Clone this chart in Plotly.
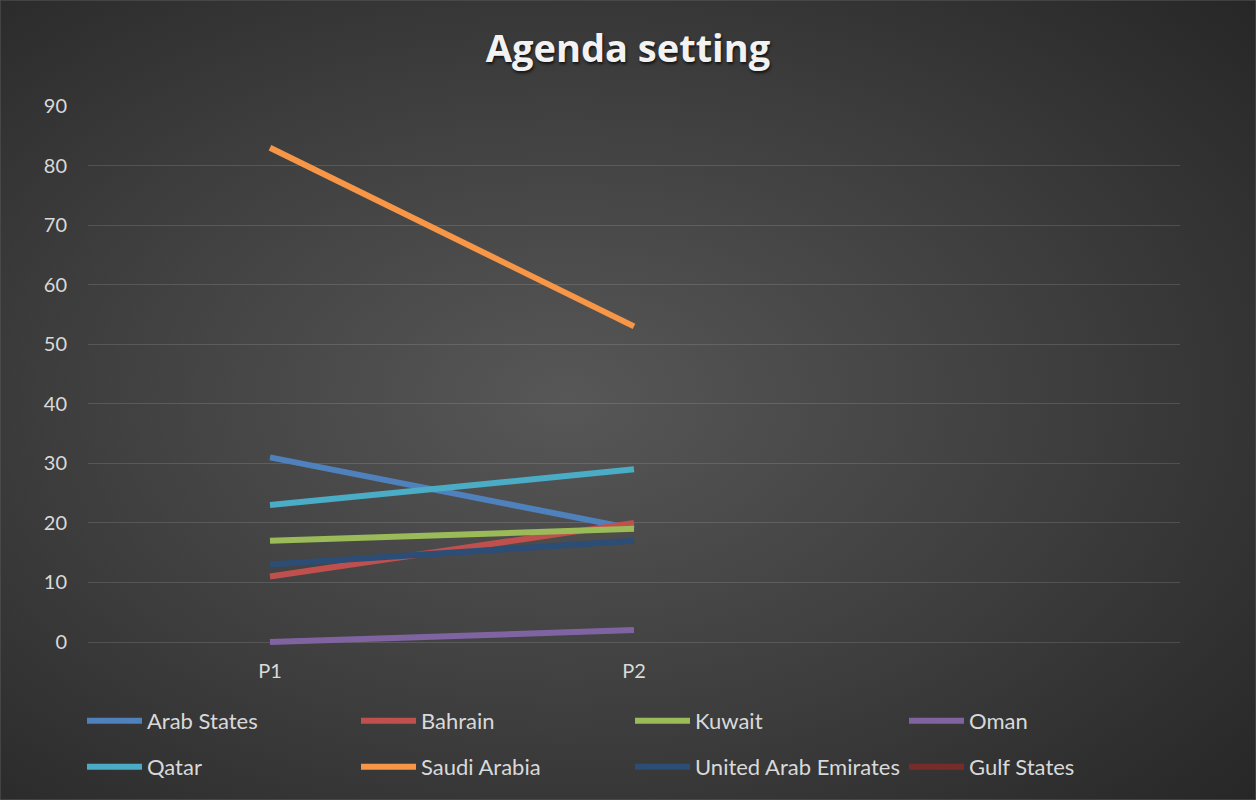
import base64
import plotly.graph_objects as go

# ---- data ----
periods = ["P1", "P2"]
series_names = ["Arab States", "Bahrain", "Kuwait", "Oman", "Qatar",
                "Saudi Arabia", "United Arab Emirates", "Gulf States"]
arab_states = [31, 19]
bahrain = [11, 20]
kuwait = [17, 19]
oman = [0, 2]
qatar = [23, 29]
saudi_arabia = [83, 53]
uae = [13, 17]
gulf_states = [None, None]
y_ticks = [0, 10, 20, 30, 40, 50, 60, 70, 80, 90]

values = [arab_states, bahrain, kuwait, oman, qatar, saudi_arabia, uae, gulf_states]
colors = ["#4F81BD", "#C0504D", "#9BBB59", "#8064A2", "#4BACC6",
          "#F79646", "#2C4D75", "#772C2A"]

W, H = 1256, 800
FONT = "Lato, Open Sans, sans-serif"

fig = go.Figure()
for i, (name, vals, col) in enumerate(zip(series_names, values, colors)):
    fig.add_trace(go.Scatter(
        x=periods, y=vals, name=name, mode="lines",
        line=dict(color=col, width=6),
        legend="legend" if i < 4 else "legend2",
        hoverinfo="x+y+name",
    ))

svg = f'''<svg xmlns="http://www.w3.org/2000/svg" width="{W}" height="{H}" viewBox="0 0 {W} {H}">
<defs><radialGradient id="g" cx="45%" cy="50%" r="75%" gradientUnits="objectBoundingBox">
<stop offset="0" stop-color="#575757"/><stop offset="0.55" stop-color="#3d3d3d"/><stop offset="1" stop-color="#262626"/>
</radialGradient></defs>
<rect width="{W}" height="{H}" fill="url(#g)"/></svg>'''
src = "data:image/svg+xml;base64," + base64.b64encode(svg.encode()).decode()

x0, x1 = 88, 1180
y_top, y_zero = 106, 642
px_per_unit = (y_zero - y_top) / 90.0
y_min = -1.2
y_bot = y_zero - y_min * px_per_unit

legend_common = dict(
    orientation="h", bgcolor="rgba(0,0,0,0)",
    font=dict(family=FONT, size=22, color="#D9D9D9"),
    entrywidth=204, entrywidthmode="pixels", itemwidth=55,
    xanchor="left", yanchor="middle", itemclick=False, itemdoubleclick=False,
)

fig.update_layout(
    width=W, height=H,
    margin=dict(l=0, r=0, t=0, b=0, autoexpand=False),
    paper_bgcolor="#333333",
    plot_bgcolor="rgba(0,0,0,0)",
    images=[dict(source=src, xref="paper", yref="paper", x=0, y=1,
                 sizex=1, sizey=1, sizing="stretch", layer="below",
                 xanchor="left", yanchor="top")],
    title=dict(text="<b>Agenda setting</b>", x=0.5, xanchor="center",
               y=1 - 49 / H, yanchor="middle",
               font=dict(family="Open Sans, sans-serif", size=38, color="#F2F2F2",
                         shadow="1px 2px 3px rgba(0,0,0,0.7)")),
    xaxis=dict(domain=[x0 / W, x1 / W], type="category", range=[-0.5, 2.5],
               automargin=False,
               showgrid=False, zeroline=False, showline=False, ticks="",
               tickfont=dict(family=FONT, size=20, color="#D9D9D9"),
               ticklabelstandoff=8),
    yaxis=dict(domain=[1 - y_bot / H, 1 - y_top / H], range=[y_min, 90],
               automargin=False,
               tickvals=y_ticks, showgrid=True, gridcolor="rgba(255,255,255,0.13)",
               gridwidth=1, zeroline=False, showline=False, ticks="",
               tickfont=dict(family=FONT, size=20, color="#D9D9D9"),
               ticklabelstandoff=20),
    legend=dict(x=82 / W, y=1 - 721 / H, **legend_common),
    legend2=dict(x=82 / W, y=1 - 767 / H, **legend_common),
    shapes=[dict(type="rect", xref="paper", yref="paper", x0=0, y0=0, x1=1, y1=1,
                 line=dict(color="#5A5A5A", width=1), layer="above")],
    showlegend=True,
)

fig.write_html("out.html", config={"displayModeBar": False},
               post_script="document.body.style.margin='0';document.body.style.overflow='hidden';")
